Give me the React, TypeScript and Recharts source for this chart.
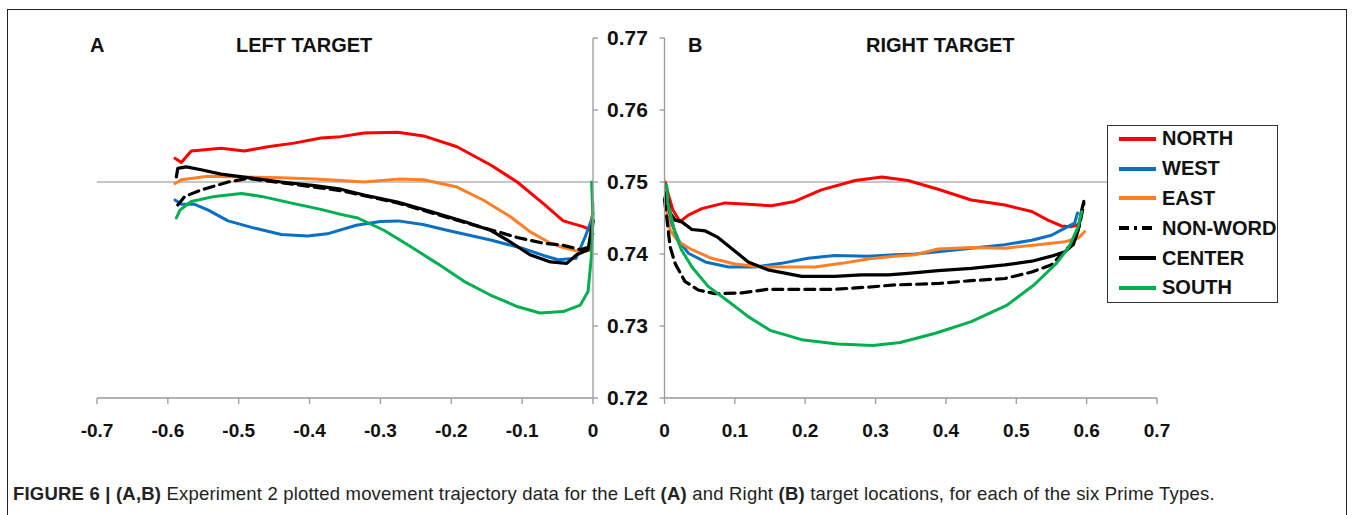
import React from "react";
import { LineChart, Line, XAxis, YAxis, CartesianGrid, Legend } from "recharts";

type Pt = [number, number];

const FONT = '"Liberation Sans", Arial, Helvetica, sans-serif';

const leftTicksX = [-0.7, -0.6, -0.5, -0.4, -0.3, -0.2, -0.1, 0];
const rightTicksX = [0, 0.1, 0.2, 0.3, 0.4, 0.5, 0.6, 0.7];
const ticksY = [0.72, 0.73, 0.74, 0.75, 0.76, 0.77];

// panel A: left target, [x, y] trajectory samples
const leftNorth: Pt[] = [
  [-0.59, 0.7533], [-0.581, 0.7527], [-0.567, 0.7543], [-0.525, 0.7547], [-0.492, 0.7543],
  [-0.459, 0.7549], [-0.422, 0.7554], [-0.384, 0.7561], [-0.356, 0.7563], [-0.323, 0.7568],
  [-0.276, 0.7569], [-0.239, 0.7564], [-0.192, 0.7549], [-0.145, 0.7524], [-0.107, 0.75],
  [-0.07, 0.747], [-0.042, 0.7446], [-0.014, 0.7438], [-0.004, 0.7434], [0, 0.7428],
];
const leftWest: Pt[] = [
  [-0.59, 0.7475], [-0.581, 0.7469], [-0.562, 0.7469], [-0.543, 0.7461], [-0.515, 0.7446],
  [-0.478, 0.7436], [-0.44, 0.7427], [-0.403, 0.7425], [-0.375, 0.7428], [-0.334, 0.744],
  [-0.3, 0.7445], [-0.275, 0.7446], [-0.24, 0.7441], [-0.206, 0.7433], [-0.143, 0.7419],
  [-0.1, 0.7408], [-0.07, 0.7398], [-0.049, 0.7392], [-0.024, 0.7394], [-0.011, 0.7424],
  [-0.003, 0.7445], [0, 0.7457],
];
const leftEast: Pt[] = [
  [-0.59, 0.7498], [-0.581, 0.7503], [-0.543, 0.7508], [-0.496, 0.7507], [-0.44, 0.7506],
  [-0.393, 0.7504], [-0.356, 0.7502], [-0.323, 0.75], [-0.276, 0.7504], [-0.239, 0.7503],
  [-0.192, 0.7493], [-0.155, 0.7475], [-0.117, 0.7452], [-0.089, 0.7431], [-0.06, 0.7415],
  [-0.042, 0.7409], [-0.018, 0.7403], [-0.004, 0.7405], [0, 0.747],
];
const leftNonWord: Pt[] = [
  [-0.586, 0.7468], [-0.576, 0.748], [-0.553, 0.7489], [-0.515, 0.75], [-0.487, 0.7505],
  [-0.44, 0.7499], [-0.356, 0.7488], [-0.276, 0.7471], [-0.182, 0.7444], [-0.135, 0.7431],
  [-0.107, 0.7423], [-0.07, 0.7415], [-0.042, 0.7412], [-0.018, 0.7406], [-0.004, 0.741],
  [0, 0.7445],
];
const leftCenter: Pt[] = [
  [-0.588, 0.7507], [-0.586, 0.7519], [-0.574, 0.7521], [-0.553, 0.7517], [-0.525, 0.7511],
  [-0.487, 0.7506], [-0.44, 0.75], [-0.393, 0.7495], [-0.356, 0.749], [-0.323, 0.7482],
  [-0.276, 0.7472], [-0.229, 0.7459], [-0.182, 0.7445], [-0.145, 0.7433], [-0.117, 0.7417],
  [-0.089, 0.7399], [-0.06, 0.7389], [-0.037, 0.7387], [-0.023, 0.7399], [-0.007, 0.7406],
  [0, 0.7447],
];
const leftSouth: Pt[] = [
  [-0.588, 0.745], [-0.583, 0.7461], [-0.567, 0.7473], [-0.534, 0.748], [-0.496, 0.7484],
  [-0.468, 0.748], [-0.422, 0.747], [-0.384, 0.7462], [-0.356, 0.7455], [-0.332, 0.745],
  [-0.295, 0.7433], [-0.257, 0.741], [-0.22, 0.7387], [-0.182, 0.7362], [-0.145, 0.7343],
  [-0.107, 0.7327], [-0.075, 0.7318], [-0.042, 0.732], [-0.018, 0.7329], [-0.007, 0.7348],
  [-0.002, 0.7399], [0, 0.7454], [-0.002, 0.75],
];

// panel B: right target
const rightNorth: Pt[] = [
  [0.001, 0.75], [0.005, 0.7484], [0.012, 0.7461], [0.022, 0.7445], [0.034, 0.7454],
  [0.053, 0.7463], [0.086, 0.7471], [0.119, 0.7469], [0.152, 0.7467], [0.185, 0.7473],
  [0.223, 0.7489], [0.271, 0.7502], [0.309, 0.7507], [0.346, 0.7502], [0.389, 0.749],
  [0.436, 0.7475], [0.484, 0.7468], [0.522, 0.7459], [0.545, 0.7447], [0.564, 0.7439],
  [0.578, 0.7438], [0.586, 0.744], [0.59, 0.7443],
];
const rightWest: Pt[] = [
  [0.002, 0.7482], [0.003, 0.747], [0.01, 0.7443], [0.02, 0.7419], [0.034, 0.7401],
  [0.058, 0.7389], [0.091, 0.7382], [0.129, 0.7382], [0.166, 0.7387], [0.204, 0.7394],
  [0.242, 0.7398], [0.289, 0.7397], [0.327, 0.7399], [0.356, 0.74], [0.389, 0.7403],
  [0.436, 0.7408], [0.484, 0.7413], [0.522, 0.7419], [0.55, 0.7426], [0.569, 0.7436],
  [0.583, 0.7443], [0.587, 0.7457],
];
const rightEast: Pt[] = [
  [0.001, 0.748], [0.003, 0.7461], [0.008, 0.7433], [0.02, 0.7417], [0.039, 0.7406],
  [0.067, 0.7394], [0.1, 0.7386], [0.138, 0.7382], [0.176, 0.7382], [0.214, 0.7382],
  [0.252, 0.7387], [0.289, 0.7393], [0.327, 0.7397], [0.356, 0.7399], [0.389, 0.7407],
  [0.436, 0.7409], [0.484, 0.7408], [0.531, 0.7413], [0.569, 0.7417], [0.588, 0.7422],
  [0.597, 0.7431],
];
const rightNonWord: Pt[] = [
  [0, 0.7475], [0.003, 0.7452], [0.008, 0.741], [0.015, 0.7387], [0.029, 0.7362],
  [0.048, 0.735], [0.072, 0.7345], [0.11, 0.7346], [0.147, 0.7351], [0.195, 0.7351],
  [0.242, 0.7351], [0.289, 0.7354], [0.327, 0.7357], [0.389, 0.7359], [0.436, 0.7363],
  [0.484, 0.7366], [0.522, 0.7375], [0.55, 0.7385], [0.564, 0.7399], [0.578, 0.7413],
  [0.59, 0.744], [0.596, 0.747],
];
const rightCenter: Pt[] = [
  [0, 0.7475], [0.003, 0.7486], [0.008, 0.7457], [0.015, 0.7447], [0.024, 0.7445],
  [0.039, 0.7434], [0.058, 0.7432], [0.076, 0.7423], [0.095, 0.7408], [0.119, 0.7389],
  [0.147, 0.7378], [0.195, 0.7369], [0.242, 0.7369], [0.28, 0.7371], [0.318, 0.7371],
  [0.346, 0.7373], [0.389, 0.7377], [0.436, 0.738], [0.484, 0.7385], [0.522, 0.739],
  [0.55, 0.7397], [0.569, 0.7403], [0.581, 0.7413], [0.588, 0.7433], [0.593, 0.7461],
  [0.596, 0.7473],
];
const rightSouth: Pt[] = [
  [0.003, 0.7496], [0.005, 0.747], [0.015, 0.7429], [0.024, 0.7406], [0.039, 0.7382],
  [0.062, 0.7355], [0.091, 0.7334], [0.119, 0.7313], [0.15, 0.7294], [0.195, 0.7281],
  [0.246, 0.7275], [0.296, 0.7273], [0.335, 0.7277], [0.385, 0.729], [0.436, 0.7306],
  [0.487, 0.7329], [0.525, 0.7357], [0.557, 0.7387], [0.575, 0.741], [0.588, 0.7438],
  [0.593, 0.7459],
];

const series = [
  { name: "NORTH", color: "#FF0000", width: 3, dash: undefined, left: leftNorth, right: rightNorth },
  { name: "WEST", color: "#0A70C4", width: 3, dash: undefined, left: leftWest, right: rightWest },
  { name: "EAST", color: "#FF7F27", width: 3, dash: undefined, left: leftEast, right: rightEast },
  { name: "NON-WORD", color: "#000000", width: 3.2, dash: "10 6", left: leftNonWord, right: rightNonWord },
  { name: "CENTER", color: "#000000", width: 3.2, dash: undefined, left: leftCenter, right: rightCenter },
  { name: "SOUTH", color: "#00B050", width: 3, dash: undefined, left: leftSouth, right: rightSouth },
];

const toRows = (pts: Pt[]) => pts.map(([x, y]) => ({ x, y }));

const AXIS = "#9a9a9a";
const tickFont = { fill: "#111", fontSize: 19, fontWeight: 700, fontFamily: FONT };
const EmptyTick = () => <g />;

// legend keeps the series order (recharts sorts the payload by name)
// eslint-disable-next-line @typescript-eslint/no-explicit-any
const LegendBox = ({ payload }: any) => {
  const items = [...(payload || [])].sort(
    (a: { value: string }, b: { value: string }) =>
      series.findIndex(s => s.name === a.value) - series.findIndex(s => s.name === b.value),
  );
  return (
    <div
      style={{
        width: "100%", height: "100%", boxSizing: "border-box", background: "#fff",
        border: "1.5px solid #333", fontFamily: FONT,
      }}
    >
      <div style={{ position: "relative", top: -2, paddingLeft: 10 }}>
        {items.map((p: { value: string; color: string }) => {
          const s = series.find(d => d.name === p.value);
          return (
            <div key={p.value} style={{ height: 29.8, display: "flex", alignItems: "center" }}>
              <svg width={40} height={8} style={{ marginRight: 4 }}>
                <line x1={1} y1={4} x2={38} y2={4} stroke={p.color} strokeWidth={4}
                  strokeDasharray={s?.dash ? "10 5 3 5" : undefined} />
              </svg>
              <span style={{ fontSize: 20, fontWeight: 700, color: "#111" }}>{p.value}</span>
            </div>
          );
        })}
      </div>
    </div>
  );
};

function Panel({ side }: { side: "left" | "right" }) {
  const isLeft = side === "left";
  return (
    <LineChart
      width={isLeft ? 660 : 715}
      height={470}
      margin={isLeft ? { top: 38, left: 97, right: 7, bottom: 22 } : { top: 38, left: 14.5, right: 198, bottom: 22 }}
    >
      <CartesianGrid vertical={false} horizontalValues={[0.75]} stroke="#8c8c8c" strokeWidth={1} />
      <XAxis
        type="number" dataKey="x" height={50}
        domain={isLeft ? [-0.7, 0] : [0, 0.7]}
        ticks={isLeft ? leftTicksX : rightTicksX}
        interval={0}
        tickFormatter={(v: number) => String(v)}
        stroke={AXIS} strokeWidth={1.3} tickSize={6} tickMargin={20}
        tick={tickFont}
      />
      <YAxis
        type="number" domain={[0.72, 0.77]} ticks={ticksY} interval={0}
        orientation={isLeft ? "right" : "left"}
        width={isLeft ? 60 : 10}
        stroke={AXIS} strokeWidth={1.3} tickSize={5} tickMargin={9}
        tickFormatter={(v: number) => v.toFixed(2)}
        tick={isLeft ? { ...tickFont, fontSize: 21 } : EmptyTick}
      />
      {series.map(s => (
        <Line
          key={s.name} name={s.name} data={toRows(isLeft ? s.left : s.right)} dataKey="y"
          type="linear" stroke={s.color} strokeWidth={s.width} strokeDasharray={s.dash}
          strokeLinejoin="round" strokeLinecap="round" dot={false} activeDot={false}
          isAnimationActive={false} legendType="line"
        />
      ))}
      {!isLeft && (
        <Legend
          layout="horizontal" verticalAlign="middle" align="center"
          content={<LegendBox />}
          wrapperStyle={{ left: 467, top: 125, width: 171, height: 178 }}
        />
      )}
    </LineChart>
  );
}

const titleStyle: React.CSSProperties = {
  position: "absolute", top: 35, fontFamily: FONT, fontSize: 20, fontWeight: 700,
  lineHeight: 1, color: "#111", whiteSpace: "nowrap",
};

export default function App() {
  return (
    <div style={{ position: "absolute", left: 0, top: 0, width: 1355, height: 515, overflow: "hidden", background: "#fff" }}>
      <div style={{ position: "absolute", left: 7, top: 9, width: 1340, height: 530, border: "1px solid #222", boxSizing: "border-box" }} />
      <div style={{ position: "absolute", left: 0, top: 0 }}>
        <Panel side="left" />
      </div>
      <div style={{ position: "absolute", left: 640, top: 0 }}>
        <Panel side="right" />
      </div>
      <div style={{ ...titleStyle, left: 90 }}>A</div>
      <div style={{ ...titleStyle, left: 236 }}>LEFT TARGET</div>
      <div style={{ ...titleStyle, left: 688 }}>B</div>
      <div style={{ ...titleStyle, left: 866 }}>RIGHT TARGET</div>
      <div style={{ position: "absolute", left: 13, top: 485, fontFamily: FONT, fontSize: 18.5, letterSpacing: 0.2, lineHeight: 1, color: "#222", whiteSpace: "nowrap" }}>
        <b>FIGURE 6 | (A,B)</b> Experiment 2 plotted movement trajectory data for the Left <b>(A)</b> and Right <b>(B)</b> target locations, for each of the six Prime Types.
      </div>
    </div>
  );
}
